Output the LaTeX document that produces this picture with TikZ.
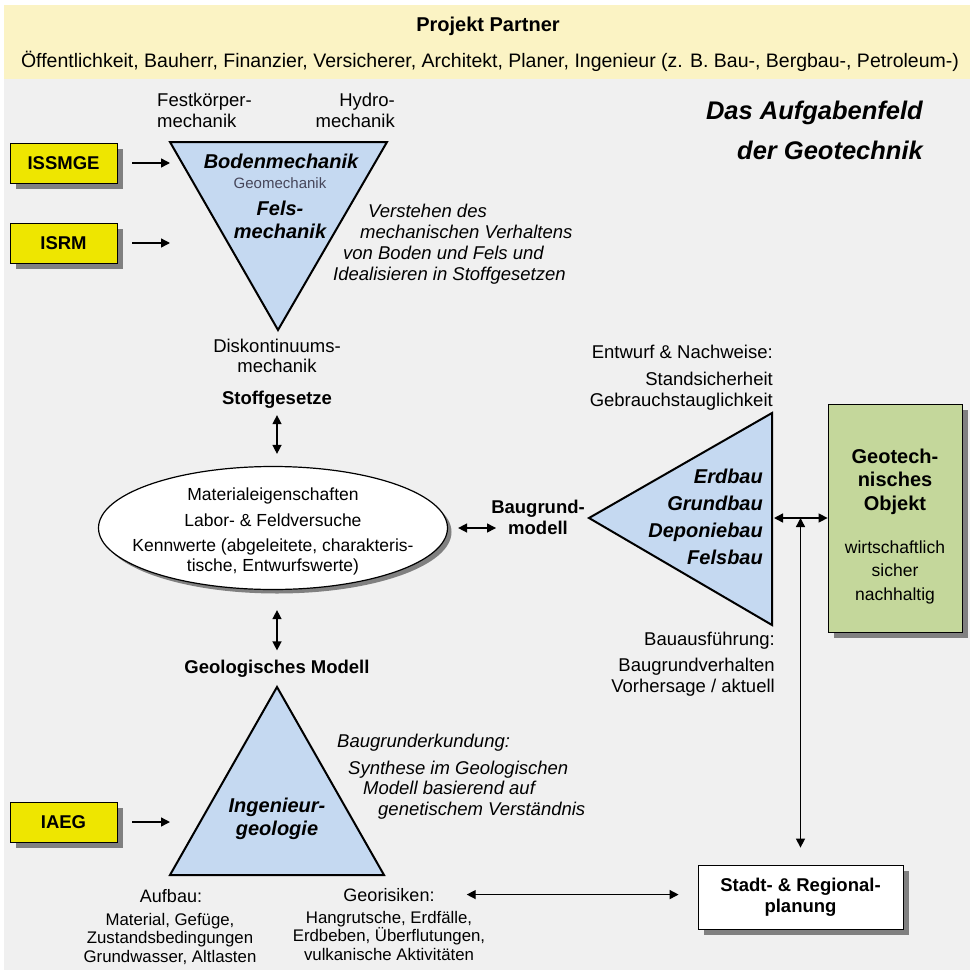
\documentclass[tikz,border=0pt]{standalone}
\usepackage{fontspec}
\setmainfont{Liberation Sans}
\usetikzlibrary{arrows.meta,shapes.geometric,shadows}

\definecolor{kopfgelb}{RGB}{251,243,196}
\definecolor{grundgrau}{RGB}{240,240,240}
\definecolor{dreieckblau}{RGB}{197,217,241}
\definecolor{boxgelb}{RGB}{238,230,0}
\definecolor{objektgruen}{RGB}{196,215,155}
\definecolor{geograu}{RGB}{70,70,90}

\begin{document}
\begin{tikzpicture}[x=1pt, y=-1pt,
    txt/.style={inner sep=0pt, font=\fontsize{18.5}{21}\selectfont},
    klein/.style={inner sep=0pt, font=\fontsize{16.8}{18.8}\selectfont},
    fett/.style={inner sep=0pt, font=\fontsize{18.5}{21}\selectfont\bfseries},
    fettkursiv/.style={inner sep=0pt, font=\fontsize{20}{23}\selectfont\bfseries\itshape},
    kursiv/.style={inner sep=0pt, font=\fontsize{18.5}{20.5}\selectfont\itshape},
    schatten/.style={drop shadow={shadow xshift=6pt, shadow yshift=-6pt, fill=black!50, opacity=1}},
    gelbbox/.style={draw, line width=0.8pt, fill=boxgelb, minimum width=107pt, minimum height=40pt,
        font=\fontsize{18.5}{21}\selectfont\bfseries, schatten},
    dreieck/.style={fill=dreieckblau, draw=black, line width=2pt, line join=miter},
    pfeil/.style={line width=1.4pt, -{Triangle[length=9pt, width=9pt]}},
    dpfeil/.style={line width=1.4pt, {Triangle[length=9pt, width=9pt]}-{Triangle[length=9pt, width=9pt]}}]

    % Hintergrund und Kopfzeile
    \useasboundingbox (0,0) rectangle (974,974);
    \fill[white] (0,0) rectangle (974,974);
    \fill[kopfgelb] (4,5) rectangle (970,79);
    \fill[grundgrau] (4,79) rectangle (970,970);
    \node[fett, anchor=base, font=\fontsize{20}{24}\selectfont\bfseries] (kopf) at (488,32) {Projekt Partner};
    \node[txt, anchor=base, font=\fontsize{19.5}{22}\selectfont] (partner) at (490,67)
        {Öffentlichkeit, Bauherr, Finanzier, Versicherer, Architekt, Planer, Ingenieur (z. B. Bau-, Bergbau-, Petroleum-)};
    \node[inner sep=0pt, anchor=north east, align=right, font=\fontsize{25.5}{40}\selectfont\bfseries\itshape]
        (aufgabe) at (923,100.4) {Das Aufgabenfeld\\der Geotechnik};

    % Boden- und Felsmechanik, Spitze nach unten
    \coordinate (bodenL) at (170,142);
    \coordinate (bodenR) at (387,142);
    \coordinate (bodenS) at (278,330);
    \draw[dreieck] (bodenL) -- (bodenR) -- (bodenS) -- cycle;
    \node[fettkursiv, anchor=base] (boden) at (281,168) {Bodenmechanik};
    \node[inner sep=0pt, anchor=base, font=\fontsize{15}{18}\selectfont, text=geograu] (geomech) at (280,188) {Geomechanik};
    \node[fettkursiv, anchor=north, align=center] (fels) at (280,200.4) {Fels-\\mechanik};
    \node[txt, anchor=north west, align=left] (festk) at (157,92.5) {Festkörper-\\mechanik};
    \node[txt, anchor=north east, align=right] (hydro) at (395,92.5) {Hydro-\\mechanik};
    \node[txt, anchor=north, align=center, font=\fontsize{18.5}{20}\selectfont] (disk) at (277,338.5) {Diskontinuums-\\mechanik};
    \node[kursiv, anchor=north west, align=left, font=\fontsize{18.5}{21}\selectfont\itshape] (verstehen) at (333,203.5)
        {\hspace*{35pt}Verstehen des\\\hspace*{27pt}mechanischen Verhaltens\\\hspace*{10pt}von Boden und Fels und\\Idealisieren in Stoffgesetzen};
    \node[gelbbox] (issmge) at (63.5,163) {ISSMGE};
    \node[gelbbox] (isrm) at (63.5,243) {ISRM};

    % Materialeigenschaften
    \node[fett, anchor=base] (stoff) at (277,404) {Stoffgesetze};
    \node[ellipse, draw, line width=1.2pt, fill=white, minimum width=349pt, minimum height=123pt, inner sep=0pt,
        drop shadow={shadow xshift=4pt, shadow yshift=-4pt, fill=black!50, opacity=1}] (mat) at (273,528) {};
    \node[inner sep=0pt, anchor=north, align=center, font=\fontsize{17.5}{20}\selectfont] (mattext) at (273,487.2)
        {Materialeigenschaften\\[6pt]Labor- \& Feldversuche\\[5pt]Kennwerte (abgeleitete, charakteris-\\tische, Entwurfswerte)};
    \node[fett, anchor=base] (geomodell) at (277,673) {Geologisches Modell};
    \node[fett, anchor=north, align=center] (baugrund) at (538,499.5) {Baugrund-\\modell};

    % Erdbau, Grundbau, Spitze nach links
    \coordinate (bauS) at (589,518);
    \coordinate (bauO) at (772,413);
    \coordinate (bauU) at (772,625);
    \coordinate (bauM) at (774,518);
    \draw[dreieck] (bauS) -- (bauO) -- (bauU) -- cycle;
    \node[fettkursiv, anchor=north east, align=right, font=\fontsize{20}{27}\selectfont\bfseries\itshape] (bau) at (763,468.4)
        {Erdbau\\Grundbau\\Deponiebau\\Felsbau};
    \node[txt, anchor=north east, align=right] (entwurf) at (773,344.5) {Entwurf \& Nachweise:\\[6pt]Standsicherheit\\Gebrauchstauglichkeit};
    \node[txt, anchor=north east, align=right] (ausf) at (775,631.5) {Bauausführung:\\[5pt]Baugrundverhalten\\Vorhersage / aktuell};

    % Geotechnisches Objekt
    \node[draw, line width=0.8pt, fill=objektgruen, minimum width=134pt, minimum height=228pt, schatten] (objekt) at (895,518) {};
    \node[inner sep=0pt, anchor=north, align=center, font=\fontsize{20}{23.5}\selectfont\bfseries] (objtitel) at (895,448.4)
        {Geotech-\\nisches\\Objekt};
    \node[inner sep=0pt, anchor=north, align=center, font=\fontsize{17.5}{23.5}\selectfont] (objziele) at (895,540.2)
        {wirtschaftlich\\sicher\\nachhaltig};

    % Ingenieurgeologie, Spitze nach oben
    \coordinate (geoS) at (277,687);
    \coordinate (geoL) at (170,875);
    \coordinate (geoR) at (384,875);
    \draw[dreieck] (geoS) -- (geoR) -- (geoL) -- cycle;
    \node[fettkursiv, anchor=north, align=center] (ingeo) at (277,797.4) {Ingenieur-\\geologie};
    \node[gelbbox] (iaeg) at (63.5,822) {IAEG};
    \node[kursiv, anchor=north west, align=left] (erkundung) at (337,733.5)
        {Baugrunderkundung:\\[6.5pt]\hspace*{11pt}Synthese im Geologischen\\\hspace*{26pt}Modell basierend auf\\\hspace*{41pt}genetischem Verständnis};
    \node[txt, anchor=base, font=\fontsize{18}{21}\selectfont] (aufbau) at (171,902) {Aufbau:};
    \node[klein, anchor=north, align=center] (aufbauliste) at (170,912.7) {Material, Gefüge,\\Zustandsbedingungen\\Grundwasser, Altlasten};
    \node[txt, anchor=base, font=\fontsize{18}{21}\selectfont] (georisk) at (389,901) {Georisiken:};
    \node[klein, anchor=north, align=center] (georiskliste) at (389,910.7) {Hangrutsche, Erdfälle,\\Erdbeben, Überflutungen,\\vulkanische Aktivitäten};

    % Stadt- und Regionalplanung
    \node[draw, line width=0.8pt, fill=white, minimum width=205pt, minimum height=64pt, align=center,
        font=\fontsize{18.5}{21}\selectfont\bfseries, schatten] (stadt) at (800.5,897) {Stadt- \& Regional-\\planung};

    % Pfeile
    \draw[pfeil] ([xshift=15pt]issmge.east) -- (issmge.east -| bodenL);
    \draw[pfeil] ([xshift=15pt]isrm.east) -- (isrm.east -| bodenL);
    \draw[pfeil] ([xshift=15pt]iaeg.east) -- (iaeg.east -| geoL);
    \draw[dpfeil, shorten <=7pt, shorten >=12pt] (stoff.south) -- (stoff.south |- mat.north);
    \draw[dpfeil, shorten <=9pt, shorten >=20pt] (geomodell.north) -- (geomodell.north |- mat.south);
    \draw[dpfeil, shorten <=10pt] (mat.east) -- ([xshift=5pt]mat.east -| baugrund.west);
    \draw[dpfeil] (bauM) -- (objekt.west);
    \draw[dpfeil, shorten <=17pt] (stadt.north) -- (stadt.north |- objekt.west);
    \draw[dpfeil, shorten <=32pt, shorten >=19pt] (georisk.east) -- (georisk.east -| stadt.west);
\end{tikzpicture}
\end{document}
